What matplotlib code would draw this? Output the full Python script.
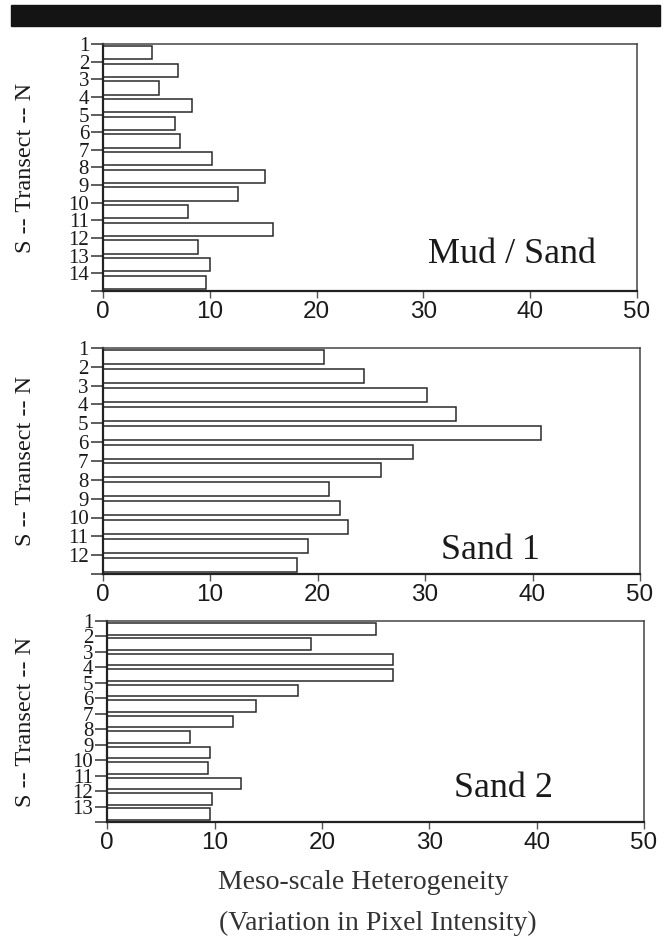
import matplotlib.pyplot as plt
import numpy as np
from matplotlib.patches import Rectangle

plt.ioff()

# values (transect stations, S -> N)
mud_sand = [4.6, 7.0, 5.2, 8.3, 6.7, 7.2, 10.25, 15.2, 12.65, 8.0, 15.9, 8.85, 10.05, 9.65]
sand1 = [20.65, 24.35, 30.2, 32.9, 40.8, 28.85, 25.95, 21.1, 22.1, 22.8, 19.1, 18.05]
sand2 = [25.0, 18.95, 26.6, 26.6, 17.8, 13.85, 11.75, 7.75, 9.55, 9.4, 12.45, 9.8, 9.6]
panel_names = ['Mud / Sand', 'Sand 1', 'Sand 2']
x_ticks = [0, 10, 20, 30, 40, 50]

W, H = 667, 939
fig = plt.figure(figsize=(W / 100, H / 100), dpi=100)

serif = 'Liberation Serif'
sans = 'Liberation Sans'
ink = '#1a1a1a'

# black rule at the top
fig.patches.append(Rectangle((11 / W, 1 - 26 / H), 649 / W, 21 / H,
                             transform=fig.transFigure, color='#141414', zorder=0))

# pixel boxes of the three panels: left, right, top, bottom
boxes = [(103, 637, 44, 291), (102.5, 640, 348, 574), (107.3, 644, 621, 822)]
# name label position (axes fraction x centre, baseline y)
name_pos = [(0.765, 0.113), (0.722, 0.066), (0.738, 0.124)]

for vals, name, box, npos in zip([mud_sand, sand1, sand2], panel_names, boxes, name_pos):
    l, r, t, b = box
    ax = fig.add_axes([l / W, 1 - b / H, (r - l) / W, (b - t) / H])
    n = len(vals)
    ax.barh(np.arange(n) + 0.5, vals, height=0.75, color='white',
            edgecolor='#2a2a2a', linewidth=1.1)
    ax.set_xlim(0, 50)
    ax.set_ylim(n, 0)
    ax.set_yticks(np.arange(n + 1))
    ax.set_yticklabels([str(i + 1) for i in range(n)] + [''],
                       fontfamily=serif, fontsize=15, color=ink)
    ax.set_xticks(x_ticks)
    ax.set_xticklabels([str(v) for v in x_ticks], fontfamily=sans,
                       fontsize=17.5, color=ink)
    ax.tick_params(axis='y', direction='out', length=9, width=1.1,
                   pad=1, colors='#333333', labelcolor=ink)
    ax.tick_params(axis='x', direction='out', length=5, width=1.0,
                   pad=2, colors='#555555', labelcolor=ink)
    for s in ax.spines.values():
        s.set_linewidth(1.1)
        s.set_color('#444444')
    ax.spines['bottom'].set_linewidth(1.6)
    ax.spines['bottom'].set_color('#222222')
    ax.spines['left'].set_linewidth(1.6)
    ax.spines['left'].set_color('#222222')
    ax.set_ylabel('S -- Transect -- N', fontfamily=serif, fontsize=17.5, color=ink)
    ax.yaxis.set_label_coords((36 - l) / (r - l), 0.5)
    ax.text(npos[0], npos[1], name, transform=ax.transAxes, ha='center',
            va='baseline', fontfamily=serif, fontsize=26, color=ink)

fig.text(363 / W, 1 - 889 / H, 'Meso-scale Heterogeneity', ha='center',
         va='baseline', fontfamily=serif, fontsize=20, color='#333333')
fig.text(378 / W, 1 - 930 / H, '(Variation in Pixel Intensity)', ha='center',
         va='baseline', fontfamily=serif, fontsize=20, color='#333333')

fig.savefig('out.png', dpi=100)
